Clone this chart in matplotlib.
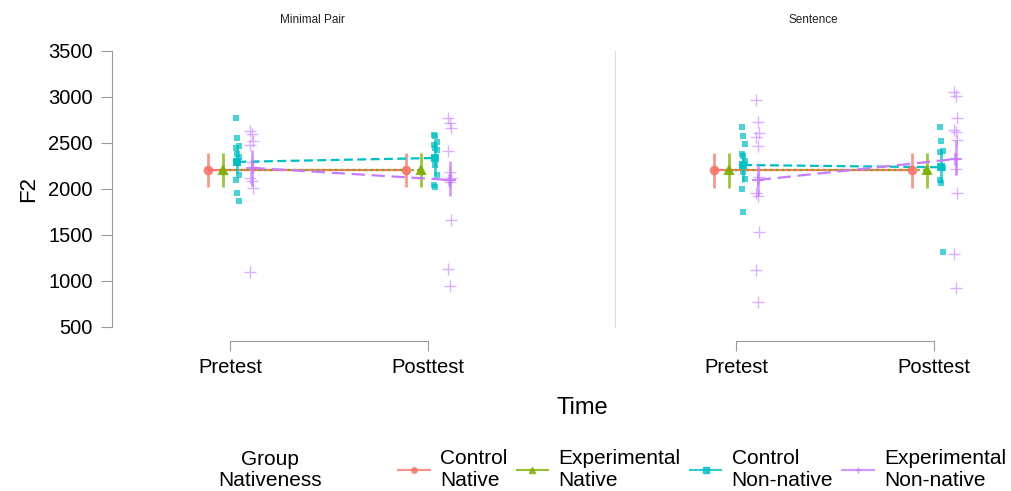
import numpy as np
import matplotlib.pyplot as plt
from matplotlib.lines import Line2D

plt.rcParams['font.family'] = ['Liberation Sans', 'DejaVu Sans']

# Data
times = ["Pretest", "Posttest"]
panels = ["Minimal Pair", "Sentence"]
groups = ["Control\nNative", "Experimental\nNative", "Control\nNon-native", "Experimental\nNon-native"]
colors = ["#F8766D", "#7CAE00", "#00BFC4", "#C77CFF"]

# group means at [Pretest, Posttest]
mp_means = [[2207, 2207], [2207, 2207], [2295, 2337], [2230, 2098]]
sent_means = [[2207, 2207], [2207, 2207], [2261, 2236], [2098, 2326]]

# error bar limits (low, high) at [Pretest, Posttest]
mp_lo = [[2022, 2022], [2022, 2022], [2160, 2150], [2030, 1920]]
mp_hi = [[2391, 2391], [2391, 2391], [2440, 2520], [2420, 2300]]
sent_lo = [[2015, 2015], [2015, 2015], [2080, 2060], [1920, 2150]]
sent_hi = [[2395, 2395], [2395, 2395], [2400, 2420], [2260, 2530]]

# raw points for the non-native groups
mp_cnn_pre = [2775, 2558, 2470, 2449, 2380, 2344, 2304, 2279, 2152, 2098, 1960, 1873]
mp_cnn_post = [2590, 2580, 2514, 2478, 2442, 2424, 2334, 2261, 2152, 2043, 2018]
mp_enn_pre = [2630, 2600, 2525, 2478, 2297, 2236, 2116, 2090, 2008, 1101]
mp_enn_post = [2768, 2714, 2660, 2416, 2188, 2116, 2098, 2079, 1663, 1127, 946]
sent_cnn_pre = [2671, 2580, 2486, 2380, 2359, 2300, 2236, 2180, 2109, 2000, 1747]
sent_cnn_post = [2677, 2525, 2416, 2402, 2236, 2225, 2098, 2068, 1312]
sent_enn_pre = [2967, 2731, 2612, 2568, 2471, 2134, 1953, 1924, 1536, 1120, 775]
sent_enn_post = [3058, 3011, 2768, 2641, 2623, 2533, 2326, 2214, 1953, 1293, 921]

means = [mp_means, sent_means]
lows = [mp_lo, sent_lo]
highs = [mp_hi, sent_hi]
raw = [
    {2: [mp_cnn_pre, mp_cnn_post], 3: [mp_enn_pre, mp_enn_post]},
    {2: [sent_cnn_pre, sent_cnn_post], 3: [sent_enn_pre, sent_enn_post]},
]

# Styles
dodge = [-0.11, -0.037, 0.037, 0.11]
markers = ["o", "^", "s", "+"]
msizes = [5.5, 6, 4.5, 9]
linestyles = ["-", ":", (0, (4, 2)), (0, (6, 3))]

fig = plt.figure(figsize=(10.11, 4.91), dpi=100)
ax_left = fig.add_axes([112 / 1011, 164 / 491, 400 / 1011, 276 / 491])
ax_right = fig.add_axes([615 / 1011, 164 / 491, 396 / 1011, 276 / 491])
axes = [ax_left, ax_right]
xlims = [(-0.596, 1.424), (-0.611, 1.389)]
x = np.arange(len(times))

for p, ax in enumerate(axes):
    for g in range(len(groups)):
        xs = x + dodge[g]
        c = colors[g]
        # raw points
        if g in raw[p]:
            for t in range(len(times)):
                pts = raw[p][g][t]
                jit = (np.arange(len(pts)) % 3 - 1) * 0.008
                if g == 2:
                    ax.plot(xs[t] + jit, pts, "s", color=c, alpha=0.7, ms=4, mew=0, zorder=2)
                else:
                    ax.plot(xs[t] + jit, pts, "+", color=c, alpha=0.6, ms=9, mew=1, zorder=2)
        # connecting line
        ax.plot(xs, means[p][g], color=c, linestyle=linestyles[g], lw=1.6, zorder=3)
        # error bars
        ax.vlines(xs, lows[p][g], highs[p][g], color=c, lw=2, alpha=0.75, zorder=3)
        # mean markers
        ax.plot(xs, means[p][g], markers[g], color=c, ms=msizes[g], mew=1.5, alpha=0.85, zorder=4)

    ax.set_xlim(*xlims[p])
    ax.set_ylim(500, 3500)
    ax.set_xticks(x)
    ax.set_xticklabels(times)
    ax.spines["top"].set_visible(False)
    ax.spines["right"].set_visible(False)
    ax.spines["bottom"].set_position(("outward", 10))
    ax.spines["bottom"].set_bounds(0, 1)
    ax.spines["bottom"].set_color("#999999")
    ax.tick_params(axis="x", length=7, color="#999999", pad=5, labelsize=14.5)
    ax.set_title(panels[p], fontsize=8.5, pad=20, color="#222222")

ax_left.set_yticks([500, 1000, 1500, 2000, 2500, 3000, 3500])
ax_left.tick_params(axis="y", labelsize=14.5, length=8, color="#999999", pad=6)
ax_left.spines["left"].set_color("#999999")
ax_left.spines["left"].set_bounds(500, 3500)
ax_left.set_ylabel("F2", fontsize=16, labelpad=6)

ax_right.set_yticks([])
ax_right.spines["left"].set_color("#dddddd")

fig.text(582 / 1011, 1 - 408 / 491, "Time", fontsize=17, ha="center", va="center")

# Legend
fig.text(270 / 1011, 1 - 470 / 491, "Group\nNativeness", fontsize=15, ha="center", va="center",
         linespacing=1.15)
handles = [Line2D([0], [0], color=colors[g], lw=1.5, marker=markers[g], ms=4, alpha=0.8)
           for g in range(len(groups))]
fig.legend(handles, groups, ncol=4, frameon=False, fontsize=15,
           loc="center left", bbox_to_anchor=(390 / 1011, 1 - 470 / 491),
           handlelength=1.5, handletextpad=0.5, columnspacing=0.45, borderaxespad=0)

fig.savefig("out.png", dpi=100)
